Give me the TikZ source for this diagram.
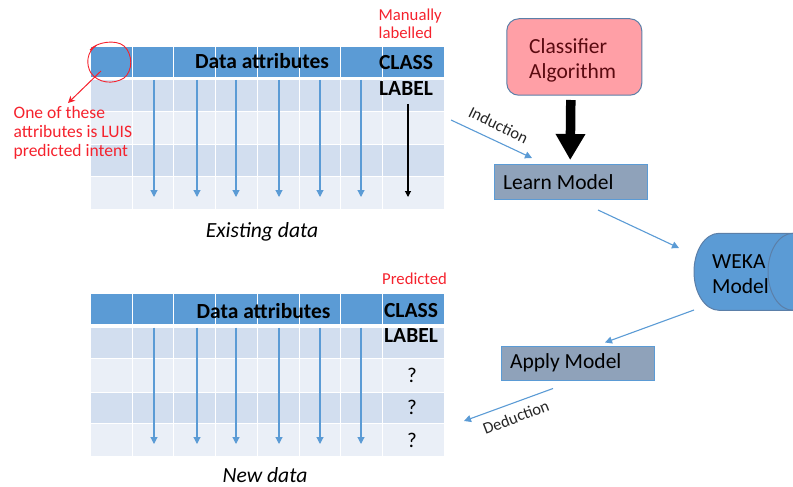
\documentclass[tikz,border=0pt]{standalone}
\usepackage{fontspec}
\setmainfont{Carlito}
\usetikzlibrary{arrows.meta}
\definecolor{hdr}{HTML}{5B9BD5}
\definecolor{rowa}{HTML}{D2DEEF}
\definecolor{rowb}{HTML}{EAEFF7}
\definecolor{redt}{HTML}{F5222D}
\definecolor{boxg}{HTML}{8FA2BA}
\definecolor{pinkb}{HTML}{FF9FA6}
\definecolor{edgeb}{HTML}{5B7FA8}
\definecolor{darkred}{HTML}{5A0A10}
\tikzset{
 flow/.style={draw=hdr,line width=1.1pt,-{Triangle[length=7pt,width=7pt]}},
 redtxt/.style={text=redt,font=\fontsize{17.5}{19}\selectfont,align=left,inner sep=0pt},
 redsm/.style={text=redt,font=\fontsize{16.7}{18}\selectfont,align=left,inner sep=0pt},
 hd/.style={font=\fontsize{21.5}{24}\selectfont\bfseries,inner sep=0pt,text=black},
 captxt/.style={font=\fontsize{21.6}{24}\selectfont\itshape,inner sep=0pt},
 modelbox/.style={draw=hdr,fill=boxg,line width=1pt,inner sep=0pt},
 qm/.style={font=\fontsize{21}{24}\selectfont,inner sep=0pt},
 lab/.style={font=\fontsize{16.5}{18}\selectfont,inner sep=0pt,text=black!85},
 bigtxt/.style={anchor=west,inner sep=0pt,align=left,font=\fontsize{21.5}{25}\selectfont}
}
\begin{document}
\begin{tikzpicture}[x=1pt,y=-1pt]
\useasboundingbox (0,0) rectangle (793,487);
% table 1
\fill[hdr] (90.5,46.7) rectangle (444,77.3);
\fill[rowa] (90.5,80) rectangle (444,111);
\fill[rowb] (90.5,111) rectangle (444,144.3);
\fill[rowa] (90.5,144.3) rectangle (444,176.7);
\fill[rowb] (90.5,176.7) rectangle (444,209.3);
\foreach \vx in {132,173.5,215.5,257.3,299,340.8,382.5}{
 \draw[white,line width=1pt] (\vx,46.7) -- (\vx,77.3);
 \draw[white,line width=1pt] (\vx,80) -- (\vx,209.3);}
\foreach \hy in {111,144.3,176.7}{\draw[white,line width=1pt] (90.5,\hy) -- (444,\hy);}
% table 2
\fill[hdr] (90.5,293.5) rectangle (444,324.3);
\fill[rowa] (90.5,327.5) rectangle (444,358.3);
\fill[rowb] (90.5,358.3) rectangle (444,392);
\fill[rowa] (90.5,392) rectangle (444,423.8);
\fill[rowb] (90.5,423.8) rectangle (444,456.3);
\foreach \vx in {132,173.5,215.5,257.3,299,340.8,382.5}{
 \draw[white,line width=1pt] (\vx,293.5) -- (\vx,324.3);
 \draw[white,line width=1pt] (\vx,327.5) -- (\vx,456.3);}
\foreach \hy in {358.3,392,423.8}{\draw[white,line width=1pt] (90.5,\hy) -- (444,\hy);}
% column arrows
\foreach \n/\vx in {1/154,2/197,3/236,4/279,5/320,6/361}{
 \coordinate (ta\n) at (\vx,80);
 \coordinate (tb\n) at (\vx,197);
 \coordinate (na\n) at (\vx,327.7);
 \coordinate (nb\n) at (\vx,444);
 \draw[flow] (ta\n) -- (tb\n);
 \draw[flow] (na\n) -- (nb\n);}
\coordinate (la) at (408,104);
\coordinate (lb) at (408,197);
\draw[black,line width=1.1pt,-{Triangle[length=6pt,width=6pt]}] (la) -- (lb);
% table texts
\node[hd,anchor=center] (da1) at (262,61) {Data attributes};
\node[hd] (cl1) at (406,62.5) {CLASS};
\node[hd] (lb1) at (406,88.5) {LABEL};
\node[captxt] (ex) at (262,231.5) {Existing data};
\node[hd] (da2) at (263.5,311) {Data attributes};
\node[hd] (cl2) at (411,310.5) {CLASS};
\node[hd] (lb2) at (411,335.5) {LABEL};
\node[captxt] (nw) at (265,475.5) {New data};
\node[qm] (q1) at (412,375.5) {?};
\node[qm] (q2) at (412,407.5) {?};
\node[qm] (q3) at (412,440) {?};
% red annotations
\node[redsm,anchor=west] (ml) at (378.5,24) {Manually\\labelled};
\node[redsm,anchor=west] (pr) at (382,279) {Predicted};
\node[redtxt,anchor=west] (ot) at (13.5,133) {One of these\\attributes is LUIS\\predicted intent};
\draw[redt,line width=0.9pt] (90,50) .. controls (96,42) and (116,39) .. (124,46) .. controls (133,54) and (133,71) .. (124,78) .. controls (113,85) and (98,83) .. (91,73) .. controls (86,65) and (86,52) .. (97,45);
\coordinate (ra) at (101,71);
\coordinate (rb) at (68,103);
\draw[redt,line width=1pt,-{Stealth[length=7pt,width=7pt]}] (ra) -- (rb);
% classifier
\node[draw=edgeb,fill=pinkb,line width=1pt,rounded corners=12pt,minimum width=135pt,minimum height=76.5pt,inner sep=0pt] (ca) at (574.3,57) {};
\node[bigtxt,text=darkred] (ct) at (529,60) {Classifier\\Algorithm};
% models
\node[modelbox,minimum width=153pt,minimum height=34.3pt] (lm) at (570.5,182) {};
\node[bigtxt] (lt) at (503,182) {Learn Model};
\node[modelbox,minimum width=153pt,minimum height=34pt] (am) at (578.3,363) {};
\node[bigtxt] (amt) at (510,363) {Apply Model};
% thick arrow
\coordinate (ha) at (570.8,100);
\coordinate (hb) at (570.2,160);
\draw[black,line width=9.5pt,-{Triangle[length=26pt,width=28pt]}] (ha) -- (hb);
% cylinder
\fill[hdr] (793,233.3) -- (719,233.3) arc[start angle=270,end angle=90,x radius=25,y radius=38.5] -- (793,310.3) -- cycle;
\draw[edgeb,line width=1pt] (793,233.3) -- (719,233.3) arc[start angle=270,end angle=90,x radius=25,y radius=38.5] -- (793,310.3);
\draw[edgeb,line width=1pt] (793,233.3) arc[start angle=270,end angle=90,x radius=25,y radius=38.5];
\node[bigtxt] (wk) at (712,274) {WEKA\\Model};
% flow arrows
\coordinate (ia) at (451,120); \coordinate (ib) at (532,158);
\draw[flow] (ia) -- (ib);
\coordinate (ma) at (598,210); \coordinate (mb) at (679,248);
\draw[flow] (ma) -- (mb);
\coordinate (wa) at (694,310); \coordinate (wb) at (605,342.5);
\draw[flow] (wa) -- (wb);
\coordinate (da) at (553,388.5); \coordinate (db) at (464,421);
\draw[flow] (da) -- (db);
\node[lab,rotate=-26] (ind) at (498.5,125) {Induction};
\node[lab,rotate=21] (ded) at (516,417) {Deduction};
\end{tikzpicture}
\end{document}
